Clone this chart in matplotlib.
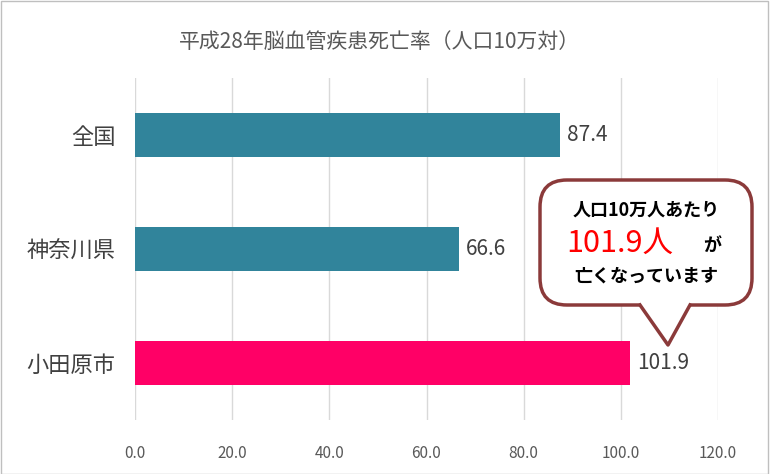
import matplotlib
matplotlib.use('Agg')
import matplotlib.pyplot as plt
from matplotlib.patches import FancyBboxPatch, Polygon, Rectangle
from matplotlib.lines import Line2D

plt.rcParams['font.family'] = 'Noto Sans CJK JP'

areas = ['全国', '神奈川県', '小田原市']
rates = [87.4, 66.6, 101.9]
colors = ['#31849B', '#31849B', '#FF0066']
xticks = [0, 20, 40, 60, 80, 100, 120]

W, H = 770, 474
fig = plt.figure(figsize=(W / 100, H / 100), dpi=100)
ax = fig.add_axes([135 / W, 1 - 420 / H, 583 / W, 342 / H])

ypos = list(range(len(areas)))[::-1]
ax.barh(ypos, rates, height=0.38, color=colors, zorder=3)
for y, v in zip(ypos, rates):
    ax.text(v + 1.5, y, f'{v:.1f}', va='center', ha='left', fontsize=15, color='#404040', zorder=4)

ax.set_xlim(0, 120)
ax.set_ylim(-0.5, 2.5)
ax.set_xticks(xticks)
ax.set_xticklabels([f'{t:.1f}' for t in xticks], fontsize=11, color='#595959')
ax.set_yticks(ypos)
ax.set_yticklabels(areas, fontsize=16, color='#404040')
ax.tick_params(length=0, pad=14)
ax.tick_params(axis='x', pad=18)
ax.grid(axis='x', color='#D9D9D9', lw=1, zorder=0)
for s in ax.spines.values():
    s.set_visible(False)

fig.text(380 / W, 1 - 42 / H, '平成28年脳血管疾患死亡率（人口10万対）', ha='center', va='center',
         fontsize=15, color='#595959')

# outer border
fig.add_artist(Rectangle((0.001, 0.001), 0.997, 0.997, transform=fig.transFigure,
                         fill=False, edgecolor='#BFBFBF', lw=1))


def px(x, y):
    return (x / W, 1 - y / H)


# callout
x0, y0 = px(540, 305)
x1, y1 = px(752, 180)
box = FancyBboxPatch((x0, y0), x1 - x0, y1 - y0, boxstyle='round,pad=0,rounding_size=0.035',
                     transform=fig.transFigure, facecolor='white', edgecolor='#8B3A3A',
                     lw=2.5, zorder=5, mutation_aspect=W / H)
fig.add_artist(box)
tail = [px(640, 303), px(668, 345), px(690, 303)]
fig.add_artist(Polygon(tail, closed=True, transform=fig.transFigure, facecolor='white',
                       edgecolor='none', zorder=6))
fig.add_artist(Line2D([tail[0][0], tail[1][0], tail[2][0]], [px(0, 305)[1], tail[1][1], px(0, 305)[1]],
                      transform=fig.transFigure, color='#8B3A3A', lw=2.5, zorder=7))
fig.text(*px(646, 210), '人口10万人あたり', ha='center', va='center', fontsize=13,
         color='black', zorder=8, fontweight='bold')
fig.text(*px(620, 243), '101.9人', ha='center', va='center', fontsize=22,
         color='#FF0000', zorder=8)
fig.text(*px(712, 245), 'が', ha='center', va='center', fontsize=13,
         color='black', zorder=8, fontweight='bold')
fig.text(*px(646, 276), '亡くなっています', ha='center', va='center', fontsize=13,
         color='black', zorder=8, fontweight='bold')

fig.savefig('out.png', dpi=100)
